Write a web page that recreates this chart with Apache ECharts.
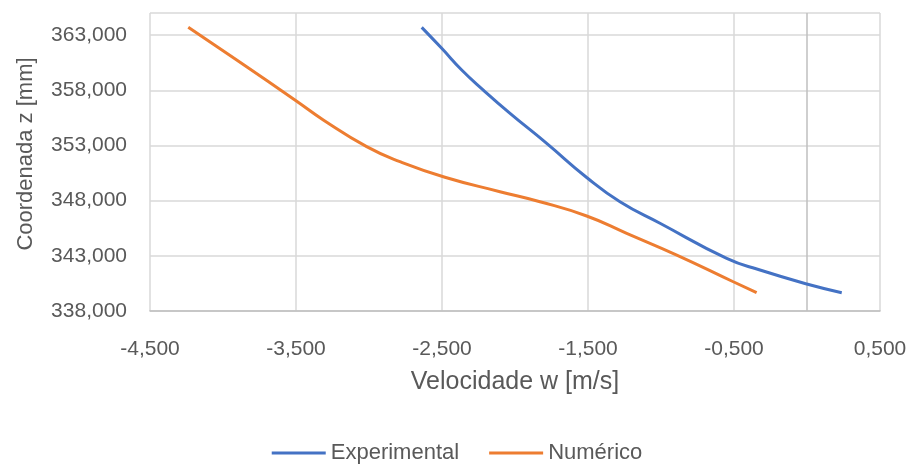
<!DOCTYPE html>
<html>
<head>
<meta charset="utf-8">
<script src="https://cdn.jsdelivr.net/npm/echarts@6/dist/echarts.min.js"></script>
<style>
  html, body { margin: 0; padding: 0; background: #ffffff; }
  #chart { width: 914px; height: 464px; }
</style>
</head>
<body>
<div id="chart"></div>
<script>
// Velocity profile w [m/s] against height z [mm]
const seriesNames = ['Experimental', 'Numérico'];

const expW = [-2.639, -2.502, -2.365, -2.217, -2.034, -1.783, -1.509, -1.281, -1.007, -0.550, -0.322, -0.002, 0.238];
const expZ = [363.70, 361.80, 359.84, 358.02, 355.91, 353.19, 350.10, 347.90, 345.95, 342.77, 341.71, 340.45, 339.66];

const numW = [-4.238, -3.906, -3.500, -3.313, -3.016, -2.788, -2.480, -2.103, -1.829, -1.509, -1.235, -0.892, -0.505, -0.345];
const numZ = [363.70, 360.74, 357.05, 355.31, 352.89, 351.53, 350.12, 348.81, 347.90, 346.61, 345.04, 343.07, 340.65, 339.66];

const xTicks = [-4.5, -3.5, -2.5, -1.5, -0.5, 0.5];
const yTicks = [338, 343, 348, 353, 358, 363];

const colors = ['#4472C4', '#ED7D31'];
const font = 'Liberation Sans, Arial, sans-serif';
const textColor = '#595959';
const fmt = v => v.toFixed(3).replace('.', ',');

const pairs = (xs, ys) => xs.map((x, i) => [x, ys[i]]);

const chart = echarts.init(document.getElementById('chart'), null, { renderer: 'canvas' });
chart.setOption({
  animation: false,
  backgroundColor: '#ffffff',
  textStyle: { fontFamily: font },
  grid: { left: 150, right: 34, top: 13, bottom: 153, containLabel: false },
  legend: {
    top: 437,
    left: 'center',
    itemWidth: 54,
    itemHeight: 3,
    itemGap: 30,
    icon: 'rect',
    textStyle: { color: textColor, fontSize: 22, fontFamily: font },
    data: seriesNames
  },
  xAxis: {
    type: 'value',
    min: -4.5,
    max: 0.5,
    interval: 1,
    name: 'Velocidade w [m/s]',
    nameLocation: 'middle',
    nameGap: 59,
    nameTextStyle: { color: textColor, fontSize: 25, fontFamily: font },
    axisLine: { show: true, onZero: false, lineStyle: { color: '#BFBFBF', width: 1.5 } },
    axisTick: { show: false },
    axisLabel: { color: textColor, fontSize: 21, margin: 28, formatter: fmt, customValues: xTicks },
    splitLine: { show: true, lineStyle: { color: '#D9D9D9', width: 1.5 } }
  },
  yAxis: {
    type: 'value',
    min: 338,
    max: 365,
    interval: 5,
    name: 'Coordenada z [mm]',
    nameLocation: 'middle',
    nameGap: 113,
    nameTextStyle: { color: textColor, fontSize: 22, fontFamily: font, padding: [0, 0, 0, 16] },
    axisLine: { show: false },
    axisTick: { show: false },
    axisLabel: { color: textColor, fontSize: 21, margin: 23, formatter: fmt, customValues: yTicks },
    splitLine: { show: true, lineStyle: { color: '#D9D9D9', width: 1.5 } }
  },
  series: [
    {
      name: seriesNames[0],
      type: 'line',
      data: pairs(expW, expZ),
      smooth: 0.5,
      showSymbol: false,
      symbol: 'none',
      lineStyle: { color: colors[0], width: 3 },
      itemStyle: { color: colors[0] },
      markLine: {
        silent: true,
        symbol: 'none',
        label: { show: false },
        lineStyle: { color: '#BFBFBF', width: 1.5, type: 'solid' },
        data: [{ xAxis: 0 }],
        z: 1
      },
      z: 3
    },
    {
      name: seriesNames[1],
      type: 'line',
      data: pairs(numW, numZ),
      smooth: 0.5,
      showSymbol: false,
      symbol: 'none',
      lineStyle: { color: colors[1], width: 3 },
      itemStyle: { color: colors[1] },
      z: 3
    }
  ]
});
</script>
</body>
</html>
